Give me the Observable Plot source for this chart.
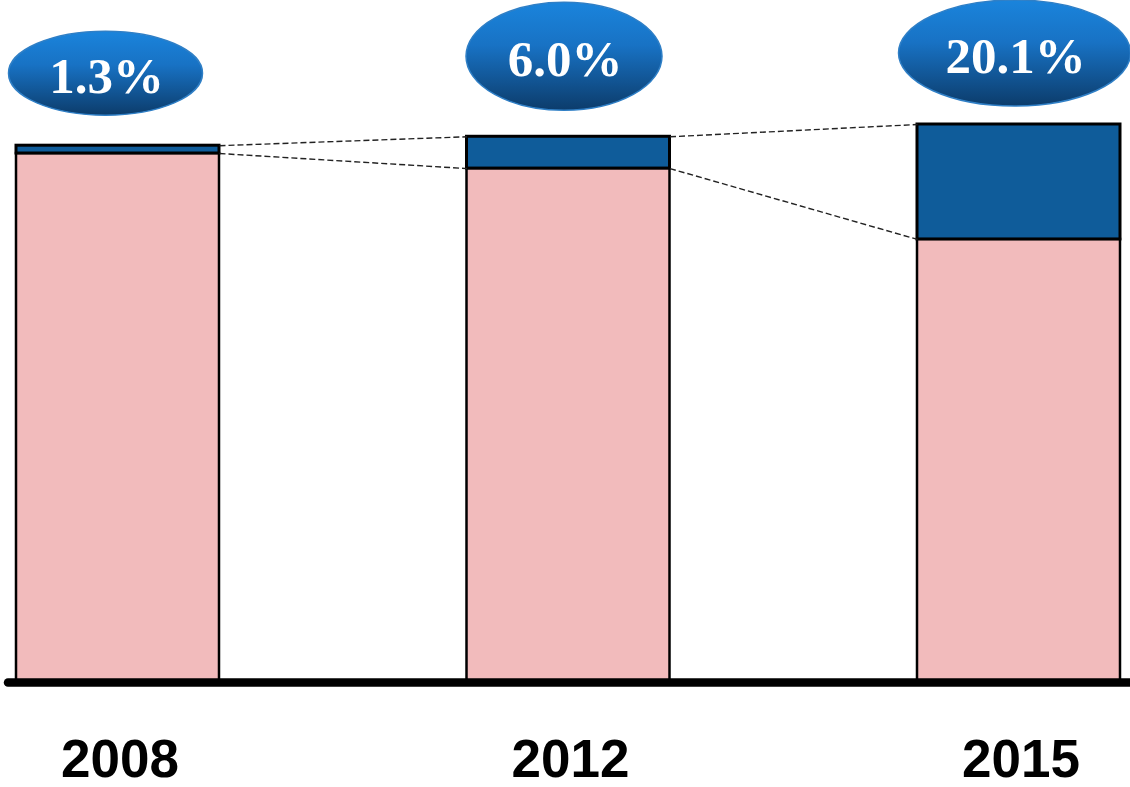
<!DOCTYPE html>
<html>
<head>
<meta charset="utf-8">
<script src="https://cdn.jsdelivr.net/npm/d3@7"></script>
<script src="https://cdn.jsdelivr.net/npm/@observablehq/plot@0.6"></script>
<style>
  html, body { margin: 0; padding: 0; background: #fff; }
  #chart svg { display: block; overflow: visible; }
</style>
</head>
<body>
<div id="chart"></div>
<script>
// ---- data (index, 2015 total = 100) ----
const years = ["2008", "2012", "2015"];
const pinkValues = [94.8, 92.1, 79.4];   // lower (pink) segment
const blueValues = [1.4, 5.7, 20.6];     // upper (blue) segment
const shareLabels = ["1.3%", "6.0%", "20.1%"];

// ---- derived tables ----
const hw = 0.2253; // half bar width in index units
const rows = years.map((y, i) => ({
  i, year: y, pink: pinkValues[i], blue: blueValues[i], total: pinkValues[i] + blueValues[i]
}));
const links = [];
for (let i = 0; i < rows.length - 1; i++) {
  links.push({x1: i + hw, x2: i + 1 - hw, y1: rows[i].total, y2: rows[i + 1].total});
  links.push({x1: i + hw, x2: i + 1 - hw, y1: rows[i].pink, y2: rows[i + 1].pink});
}

const chart = Plot.plot({
  width: 1130,
  height: 787,
  marginLeft: 0,
  marginRight: 0,
  marginTop: 0,
  marginBottom: 105,
  x: {domain: [0, 2], range: [117.5, 1018.5], axis: null},
  y: {domain: [0, 100], range: [682, 124], axis: null},
  style: {background: "#fff", overflow: "visible"},
  marks: [
    Plot.rectY(rows, {x1: d => d.i - hw, x2: d => d.i + hw, y1: 0, y2: "pink",
      fill: "#f2bbbc", stroke: "#000", strokeWidth: 2.5}),
    Plot.rectY(rows, {x1: d => d.i - hw, x2: d => d.i + hw, y1: "pink", y2: "total",
      fill: "#0f5c9a", stroke: "#000", strokeWidth: 3}),
    Plot.link(links, {x1: "x1", x2: "x2", y1: "y1", y2: "y2",
      stroke: "#222", strokeWidth: 1.4, strokeDasharray: "6,3"}),
    Plot.ruleY([0], {stroke: "#000", strokeWidth: 8.5, strokeLinecap: "round", insetLeft: 8}),
    Plot.text(rows, {x: "i", y: 0, text: "year", dy: 78, dx: 2,
      fontSize: 53, fontWeight: "bold", fontFamily: "Liberation Sans, Arial, sans-serif", fill: "#000"})
  ]
});

// ---- blue ellipses with percentages, positioned via the plot's scales ----
const sx = chart.scale("x"), sy = chart.scale("y");
const pill = [
  {dx: -12, dy: -72, rx: 97, ry: 42},
  {dx: -4, dy: -80, rx: 98, ry: 54},
  {dx: -4, dy: -71, rx: 116, ry: 53}
];
const svg = d3.select(chart);
const defs = svg.append("defs");
const grad = defs.append("linearGradient").attr("id", "pillGrad")
  .attr("x1", 0).attr("y1", 0).attr("x2", 0).attr("y2", 1);
grad.append("stop").attr("offset", "0%").attr("stop-color", "#1a84dc");
grad.append("stop").attr("offset", "40%").attr("stop-color", "#1872c4");
grad.append("stop").attr("offset", "100%").attr("stop-color", "#0c3c6b");
const g = svg.append("g");
rows.forEach((d, i) => {
  const p = pill[i];
  const cx = sx.apply(d.i) + p.dx;
  const cy = sy.apply(d.total) + p.dy;
  g.append("ellipse").attr("cx", cx).attr("cy", cy).attr("rx", p.rx).attr("ry", p.ry)
    .attr("fill", "url(#pillGrad)").attr("stroke", "#2f7fc6").attr("stroke-width", 1.5);
  g.append("text").attr("x", cx + 1).attr("y", cy + 20)
    .attr("text-anchor", "middle")
    .attr("font-family", "Liberation Serif, 'Times New Roman', serif")
    .attr("font-weight", "bold").attr("font-size", 51).attr("fill", "#fff")
    .text(shareLabels[i]);
});

document.getElementById("chart").appendChild(chart);
</script>
</body>
</html>
